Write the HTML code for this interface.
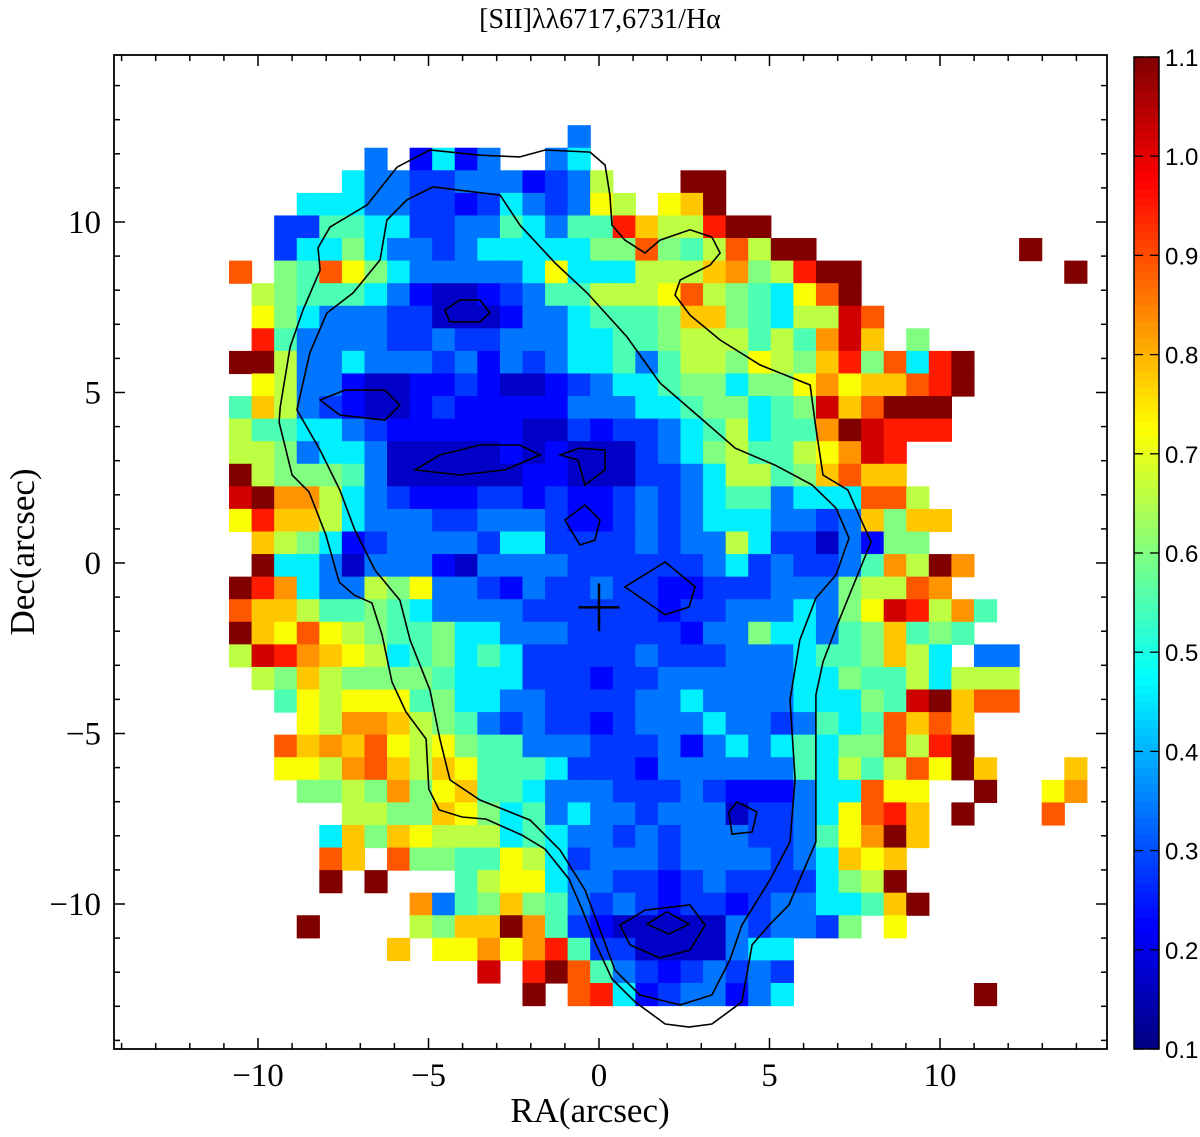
<!DOCTYPE html>
<html><head><meta charset="utf-8">
<style>
html,body{margin:0;padding:0;background:#fff;}
svg{display:block;}
.serif{font-family:"Liberation Serif",serif;}
.sans{font-family:"Liberation Sans",sans-serif;}
</style></head>
<body>
<svg id="chart" xmlns="http://www.w3.org/2000/svg" width="1200" height="1137" viewBox="0 0 1200 1137">
  <text class="serif" x="600" y="28" font-size="28" text-anchor="middle">[SII]λλ6717,6731/Hα</text>
  <g id="cells"></g>
  <g id="contours" fill="none" stroke="#000" stroke-width="1.6"></g>
  <g id="cross" stroke="#000" stroke-width="2.5"></g>
  <rect x="114" y="55" width="993" height="994" fill="none" stroke="#000" stroke-width="1.8"/>
  <g id="ticks" stroke="#000" stroke-width="1.5"></g>
  <g id="ticklabels" class="serif" font-size="33"></g>
  <text class="serif" x="590" y="1122" font-size="35" text-anchor="middle">RA(arcsec)</text>
  <text class="serif" x="0" y="0" font-size="35" text-anchor="middle" transform="translate(34,552) rotate(-90)">Dec(arcsec)</text>
  <g id="colorbar"></g>
</svg>
<script>
// ---- data ----
const codeKeys = ['0','1','2','3','4','5','6','7','8','9','a','b','c','d','e'];
const codeValues = [0.17,0.23,0.28,0.34,0.46,0.55,0.60,0.66,0.72,0.78,0.83,0.89,0.95,1.02,1.10];
const gridX0 = -10.85;
const gridY0 = 12.84;
const cellSize = 0.662;
const gridRows = [
"...............3......................",
"......3.1413..34......................",
".....433223331237...ee................",
"...444332212432387.89e................",
"..225544223354355c977cee..............",
"..2446433234444466b657b7ee.........e..",
"b.65b86433333484447779a67cee.........e",
".7655543100123557778b76548be..........",
".86433322000133455569965477db.........",
".c532333223223334455677757 5ad9.6.......".replace('532333','53333').replace(' ',''),
"ee7334333231323445357768769c6b4ce.....",
".8733100112100123445664668a899bce.....",
"59732100121111133344566456d9beee......",
"75544321111110021223457455aedccc......",
"776344300000101000234675578adc........",
"e766653000000110002234775 69b99........".replace(' ',''),
"deaa743211122121123234553444bb7.......",
"8c997433322333211232344433239699......",
".9764123333244222232337422031 66.......".replace(' ',''),
".e44303331033332222223423223 5a7ea.....".replace(' ',''),
"eca43376833213223221122233367 7ba......".replace(' ',''),
"b9975565433332222221223334368dc7a5....",
"e98b87655644333222221336443569565.....",
"7dca9874564542222232223334556974.33...",
".7697666654442221223333334465574777...",
"..5878885644332222334333344465de9bb...",
"...87aa9765323221233343323545b9b9.....",
"..b9a9b8786553332223134345466b7ce.....",
"..887ab97985554222133333354757b8e9...9",
"...6676a68955433322232111344b88..e..8a",
".....776698645343323330223 48bc9.e...b.".replace(' ',''),
"....49698777454332323332235 8ae9.......".replace(' ',''),
"....b9.b6655874233323333234989........",
"....e.e...5788433221232222467e........",
"........a356965323212212334459e.......",
"...e....7699ea52100000323326.8........",
".......9.88a8ac5220000344.............",
"...........d.ceb532123232.............",
".............e.bc41233134........e...."
];
const crossPos = [0.0, -1.3];
const crossHalf = [0.6, 0.7];
const contourOuter = [[-2.32,11.91],[-1.58,12.11],[-0.26,12.05],[0.18,11.67],[0.32,10.79],[0.38,9.91],[0.76,9.47],[1.35,9.09],[1.79,9.47],[2.67,9.77],[3.31,9.56],[3.55,9.09],[3.26,8.74],[2.38,8.30],[2.23,7.86],[2.67,7.27],[3.55,6.54],[4.72,5.81],[6.19,5.22],[6.36,3.96],[6.57,2.58],[7.30,2.14],[7.62,1.41],[7.98,0.62],[7.62,-0.26],[6.95,-1.91],[6.57,-2.90],[6.36,-3.87],[6.36,-6.36],[6.36,-8.18],[5.57,-10.03],[4.99,-10.62],[4.49,-11.20],[4.19,-12.87],[3.31,-13.52],[2.64,-13.61],[1.94,-13.52],[1.06,-12.87],[0.38,-12.20],[-0.12,-11.11],[-0.50,-10.15],[-0.88,-9.27],[-1.58,-8.39],[-2.26,-7.98],[-3.31,-7.51],[-4.02,-7.45],[-4.69,-7.24],[-4.99,-6.63],[-5.07,-5.16],[-5.66,-4.37],[-6.07,-3.49],[-6.36,-2.11],[-6.66,-1.17],[-7.18,-0.94],[-7.62,-0.56],[-8.01,0.82],[-8.50,2.08],[-9.00,2.58],[-9.38,4.13],[-9.35,4.57],[-9.06,6.33],[-8.68,7.42],[-8.18,8.59],[-8.24,9.24],[-7.89,9.85],[-6.80,10.50],[-5.92,11.61],[-4.96,12.11],[-3.49,11.96]];
const contourSecond = [[-4.87,11.03],[-2.90,10.79],[-2.32,9.91],[-1.29,8.80],[-0.35,7.92],[0.82,6.63],[1.79,5.28],[3.05,4.19],[3.99,3.37],[5.16,2.87],[6.25,2.29],[6.95,1.61],[7.33,0.73],[6.95,-0.35],[6.36,-1.03],[5.89,-2.26],[5.60,-4.02],[5.75,-6.33],[5.60,-8.18],[5.01,-9.30],[4.19,-10.62],[3.84,-11.64],[3.31,-12.67],[2.38,-12.96],[1.20,-12.67],[0.47,-11.94],[0.03,-10.76],[-0.41,-9.59],[-1.14,-8.42],[-2.02,-7.54],[-3.49,-6.95],[-4.37,-6.36],[-4.66,-5.19],[-4.96,-3.72],[-5.54,-2.26],[-5.84,-1.09],[-6.57,-0.21],[-7.16,0.97],[-7.60,2.14],[-8.18,3.31],[-8.86,4.49],[-8.48,6.16],[-7.98,7.33],[-7.21,7.92],[-6.42,8.89],[-6.22,10.06],[-5.63,10.65]];
const contourLoops = [
 [[-4.52,7.42],[-4.08,7.71],[-3.49,7.71],[-3.20,7.33],[-3.49,7.07],[-4.37,7.07]],
 [[-5.40,2.73],[-4.66,3.17],[-3.49,3.46],[-2.32,3.46],[-1.73,3.17],[-2.76,2.73],[-4.08,2.58]],
 [[-8.18,4.78],[-7.45,5.07],[-6.28,5.07],[-5.84,4.63],[-6.28,4.19],[-7.60,4.34]],
 [[-1.14,3.17],[-0.56,3.37],[0.18,3.31],[0.18,2.73],[-0.41,2.29],[-0.62,3.02]],
 [[-1.0,1.26],[-0.41,1.70],[0.03,1.26],[-0.12,0.67],[-0.56,0.53]],
 [[0.76,-0.70],[1.94,0.03],[2.82,-0.70],[2.64,-1.29],[1.94,-1.52]],
 [[3.81,-7.30],[4.05,-7.01],[4.63,-7.30],[4.49,-7.89],[3.90,-7.95]],
 [[1.41,-10.59],[1.99,-10.23],[2.64,-10.59],[2.05,-10.88]],
 [[0.62,-10.62],[1.35,-10.18],[2.67,-10.03],[3.11,-10.62],[2.67,-11.35],[1.79,-11.58],[0.91,-11.20]]
];
const xTickValues = [-10,-5,0,5,10];
const xTickLabels = ["\u221210","\u22125","0","5","10"];
const yTickValues = [-10,-5,0,5,10];
const yTickLabels = ["\u221210","\u22125","0","5","10"];
const cbTickValues = [0.1,0.2,0.3,0.4,0.5,0.6,0.7,0.8,0.9,1.0,1.1];
const cbTickLabels = ["0.1","0.2","0.3","0.4","0.5","0.6","0.7","0.8","0.9","1.0","1.1"];
const cbMin = 0.1, cbMax = 1.1;

// ---- scales ----
const NS = "http://www.w3.org/2000/svg";
function X(a){ return 599 + a*34.1; }
function Y(a){ return 563 - a*34.1; }
const cbTop = 57, cbBot = 1049, cbLeft = 1134, cbW = 25;
function CB(v){ return cbBot - (v-cbMin)/(cbMax-cbMin)*(cbBot-cbTop); }
function jet(v){
  const t = Math.max(0, Math.min(1, (v-cbMin)/(cbMax-cbMin)));
  const c = x => Math.round(255*Math.max(0, Math.min(1, x)));
  return `rgb(${c(1.5-Math.abs(4*t-3))},${c(1.5-Math.abs(4*t-2))},${c(1.5-Math.abs(4*t-1))})`;
}
function mk(tag, attrs, parent){
  const e = document.createElementNS(NS, tag);
  for (const k in attrs) e.setAttribute(k, attrs[k]);
  parent.appendChild(e); return e;
}

// ---- cells ----
const gCells = document.getElementById('cells');
gridRows.forEach((row, r) => {
  for (let c = 0; c < row.length; c++) {
    const k = codeKeys.indexOf(row[c]);
    if (k < 0) continue;
    const v = codeValues[k];
    const x0 = gridX0 + c*cellSize, y0 = gridY0 - r*cellSize;
    const px = X(x0), py = Y(y0);
    const w = X(x0+cellSize) - px, h = Y(y0-cellSize) - py;
    const el = mk('rect', {x: px.toFixed(2), y: py.toFixed(2), width: (w+0.6).toFixed(2), height: (h+0.6).toFixed(2), fill: jet(v)}, gCells);
    
    
  }
});

// ---- contours ----
const gCont = document.getElementById('contours');
function poly(pts, closed, name){
  const d = pts.map((p,i)=>(i?'L':'M')+X(p[0]).toFixed(1)+' '+Y(p[1]).toFixed(1)).join(' ') + (closed?' Z':'');
  const el = mk('path', {d: d}, gCont);
  
  
}
poly(contourOuter, true, 'contour-outer');
poly(contourSecond, true, 'contour-second');
contourLoops.forEach(l => poly(l, true, 'contour-inner-loop'));

// ---- cross ----
const gCross = document.getElementById('cross');
const ch = mk('line', {x1: X(crossPos[0]-crossHalf[0]), x2: X(crossPos[0]+crossHalf[0]), y1: Y(crossPos[1]), y2: Y(crossPos[1])}, gCross);


const cv = mk('line', {x1: X(crossPos[0]), x2: X(crossPos[0]), y1: Y(crossPos[1]+crossHalf[1]), y2: Y(crossPos[1]-crossHalf[1])}, gCross);



// ---- axis ticks ----
const gT = document.getElementById('ticks');
const L = 114, R = 1107, T = 55, B = 1049;
for (let a = -14; a <= 14; a++) {
  const major = (a % 5 === 0);
  const len = major ? 11 : 6;
  const x = X(a);
  if (x > L+1 && x < R-1) {
    mk('line', {x1:x, x2:x, y1:B, y2:B-len}, gT);
    mk('line', {x1:x, x2:x, y1:T, y2:T+len}, gT);
  }
  const y = Y(a);
  if (y > T+1 && y < B-1) {
    mk('line', {x1:L, x2:L+len, y1:y, y2:y}, gT);
    mk('line', {x1:R, x2:R-len, y1:y, y2:y}, gT);
  }
}
const gTL = document.getElementById('ticklabels');
xTickValues.forEach((v,i) => {
  const t = mk('text', {x: X(v), y: 1086, 'text-anchor':'middle'}, gTL);
  t.textContent = xTickLabels[i];
  
  
});
yTickValues.forEach((v,i) => {
  const t = mk('text', {x: 101, y: Y(v)+11, 'text-anchor':'end'}, gTL);
  t.textContent = yTickLabels[i];
  
  
});

// ---- colorbar ----
const gCB = document.getElementById('colorbar');
const nSteps = 120;
for (let i = 0; i < nSteps; i++) {
  const v0 = cbMin + (cbMax-cbMin)*i/nSteps, v1 = cbMin + (cbMax-cbMin)*(i+1)/nSteps;
  mk('rect', {x: cbLeft, y: CB(v1), width: cbW, height: CB(v0)-CB(v1)+0.5, fill: jet((v0+v1)/2)}, gCB);
}
mk('rect', {x: cbLeft, y: cbTop, width: cbW, height: cbBot-cbTop, fill:'none', stroke:'#000', 'stroke-width':1.5}, gCB);
cbTickValues.forEach((v,i) => {
  const y = CB(v);
  mk('line', {x1: cbLeft, x2: cbLeft+9, y1: y, y2: y, stroke:'#000', 'stroke-width':1.3}, gCB);
  mk('line', {x1: cbLeft+cbW, x2: cbLeft+cbW-9, y1: y, y2: y, stroke:'#000', 'stroke-width':1.3}, gCB);
  const t = mk('text', {x: 1165, y: y+9, 'font-size': 24, 'font-family':'Liberation Sans, sans-serif'}, gCB);
  t.textContent = cbTickLabels[i];
  
  
});
</script>
</body></html>
